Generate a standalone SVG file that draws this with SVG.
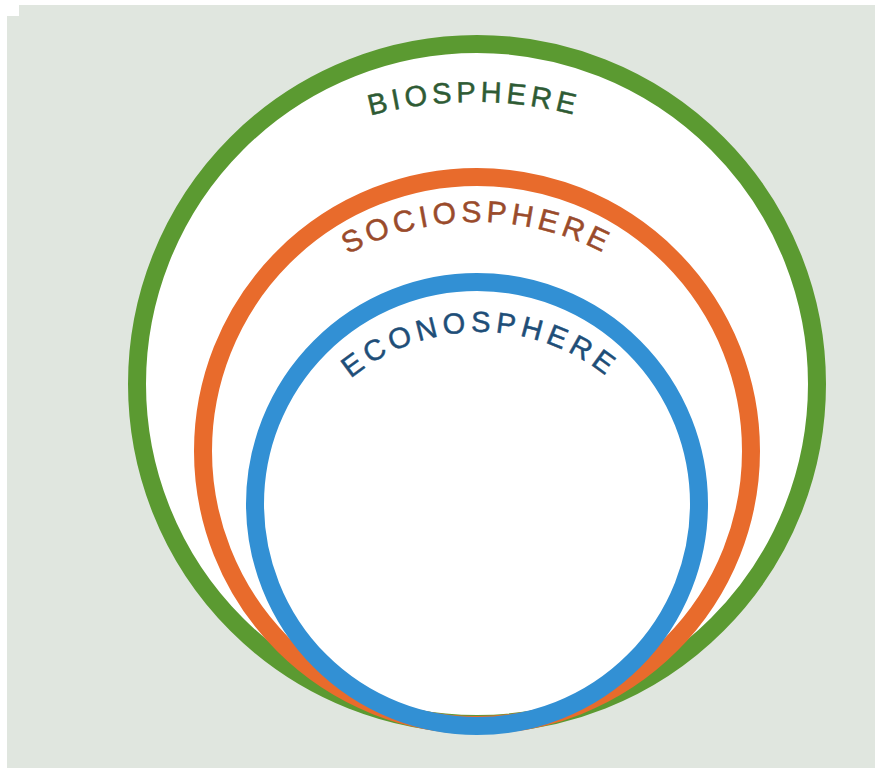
<svg xmlns="http://www.w3.org/2000/svg" width="875" height="768" viewBox="0 0 875 768">
<style>
.ring{stroke-width:18}
.lbl{font-family:"Liberation Sans",Arial,sans-serif;font-size:29px;letter-spacing:4.5px;stroke-width:0.5px}
</style>
<defs>
<path id="arcBio" d="M74 502 A400 400 0 0 1 874 502"/>
<path id="arcSocio" d="M202 497 A275 275 0 0 1 752 497"/>
<path id="arcEcono" d="M278 534 A202 202 0 0 1 682 534"/>
</defs>
<rect x="0" y="0" width="875" height="768" fill="#ffffff"/>
<path d="M19 5 H875 V768 H7 V16 H19 Z" fill="#e0e6df"/>
<g id="biosphere">
<circle cx="477" cy="384" r="340" fill="#ffffff" stroke="#5b9a31" class="ring"/>
<text class="lbl" fill="#2e5b34" stroke="#2e5b34"><textPath href="#arcBio" startOffset="50%" text-anchor="middle">BIOSPHERE</textPath></text>
</g>
<g id="sociosphere">
<circle cx="477" cy="451" r="274" fill="none" stroke="#e86b2c" class="ring"/>
<text class="lbl" fill="#9a4b2b" stroke="#9a4b2b" style="font-size:30px"><textPath href="#arcSocio" startOffset="50%" text-anchor="middle">SOCIOSPHERE</textPath></text>
</g>
<g id="econosphere">
<circle cx="477" cy="504" r="222" fill="none" stroke="#3290d4" class="ring"/>
<text class="lbl" fill="#1e4e78" stroke="#1e4e78" style="letter-spacing:5px"><textPath href="#arcEcono" startOffset="50%" text-anchor="middle">ECONOSPHERE</textPath></text>
</g>
<g id="connectors"/>
</svg>
